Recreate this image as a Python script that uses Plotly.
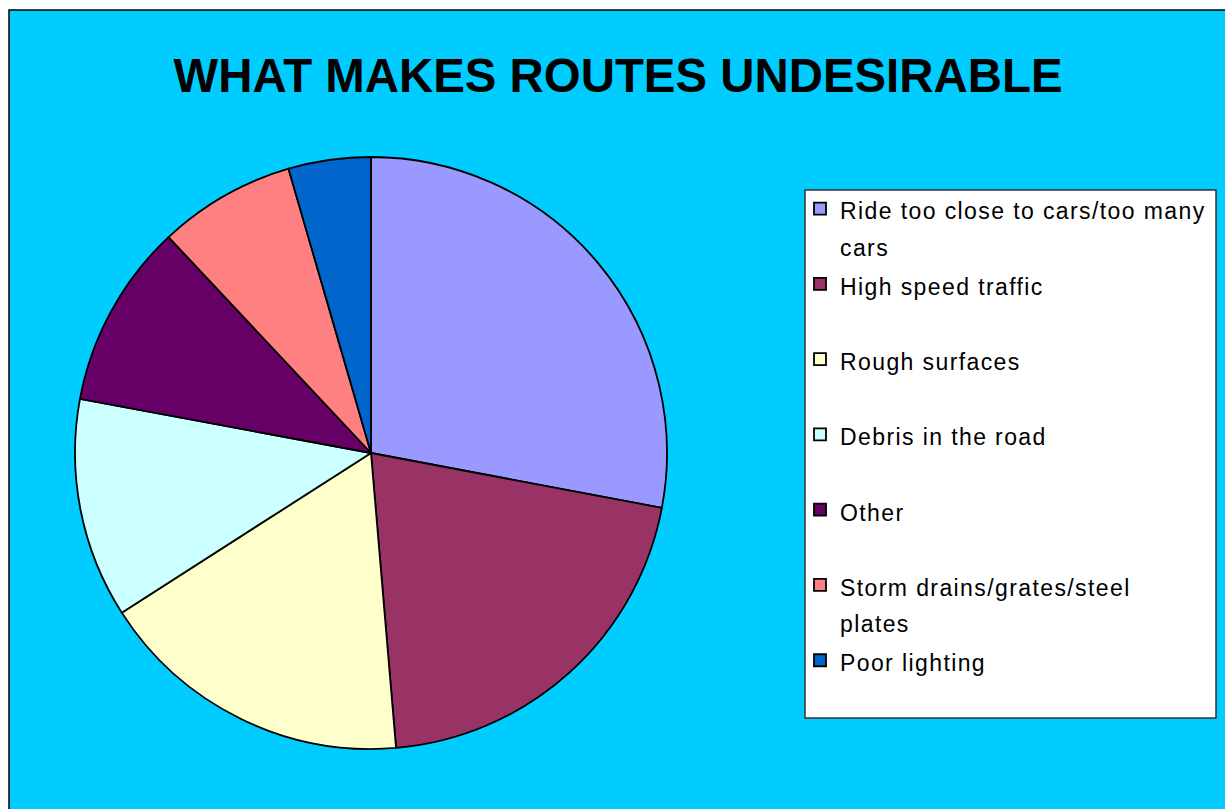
import textwrap
import plotly.graph_objects as go

# ---- data ----
categories = [
    "Ride too close to cars/too many cars",
    "High speed traffic",
    "Rough surfaces",
    "Debris in the road",
    "Other",
    "Storm drains/grates/steel plates",
    "Poor lighting",
]
shares = [28.0, 20.7, 17.3, 12.0, 10.1, 7.5, 4.5]
slice_colors = ["#9999FF", "#993366", "#FFFFCC", "#CCFFFF", "#660066", "#FF8080", "#0066CC"]
title_text = "WHAT MAKES ROUTES UNDESIRABLE"

W, H = 1225, 809


def px_x(p):
    return p / W


def px_y(p):
    return 1 - p / H


def legend_label(name):
    lines = textwrap.wrap(name, width=31)
    while len(lines) < 2:
        lines.append("&nbsp;")
    return "<br>".join(
        '<span style="font-size:23px;letter-spacing:1.4px">%s</span>' % ln for ln in lines
    )


display_labels = [legend_label(c) for c in categories]

fig = go.Figure(
    go.Pie(
        labels=display_labels,
        values=shares,
        sort=False,
        direction="clockwise",
        rotation=0,
        marker=dict(colors=slice_colors, line=dict(color="#000000", width=1.8)),
        textinfo="none",
        hoverinfo="skip",
        domain=dict(x=[px_x(75), px_x(667)], y=[px_y(749), px_y(157)]),
    )
)

fig.update_layout(
    width=W,
    height=H,
    margin=dict(l=0, r=0, t=0, b=0),
    paper_bgcolor="#FFFFFF",
    plot_bgcolor="#FFFFFF",
    font=dict(family="Liberation Sans, Arial, sans-serif", color="#000000"),
    title=dict(
        text="<b>%s</b>" % title_text,
        x=px_x(618),
        xref="paper",
        xanchor="center",
        y=px_y(75),
        yref="paper",
        yanchor="middle",
        font=dict(size=47.4, family="Liberation Sans, Arial, sans-serif", color="#000000"),
    ),
    legend=dict(
        x=px_x(800),
        y=px_y(184),
        xanchor="left",
        yanchor="top",
        bgcolor="rgba(0,0,0,0)",
        borderwidth=0,
        font=dict(size=27.8, family="Liberation Sans, Arial, sans-serif", color="#000000"),
        valign="top",
        traceorder="normal",
    ),
    showlegend=True,
    shapes=[
        dict(
            type="rect",
            xref="paper",
            yref="paper",
            x0=px_x(9),
            x1=1.02,
            y0=-0.02,
            y1=px_y(10),
            fillcolor="#00CCFF",
            line=dict(color="#000000", width=1.5),
            layer="below",
        ),
        dict(
            type="rect",
            xref="paper",
            yref="paper",
            x0=px_x(805),
            x1=px_x(1216),
            y0=px_y(718),
            y1=px_y(190),
            fillcolor="#FFFFFF",
            line=dict(color="#333333", width=1.5),
            layer="below",
        ),
    ],
)

fig.write_html("out.html")
